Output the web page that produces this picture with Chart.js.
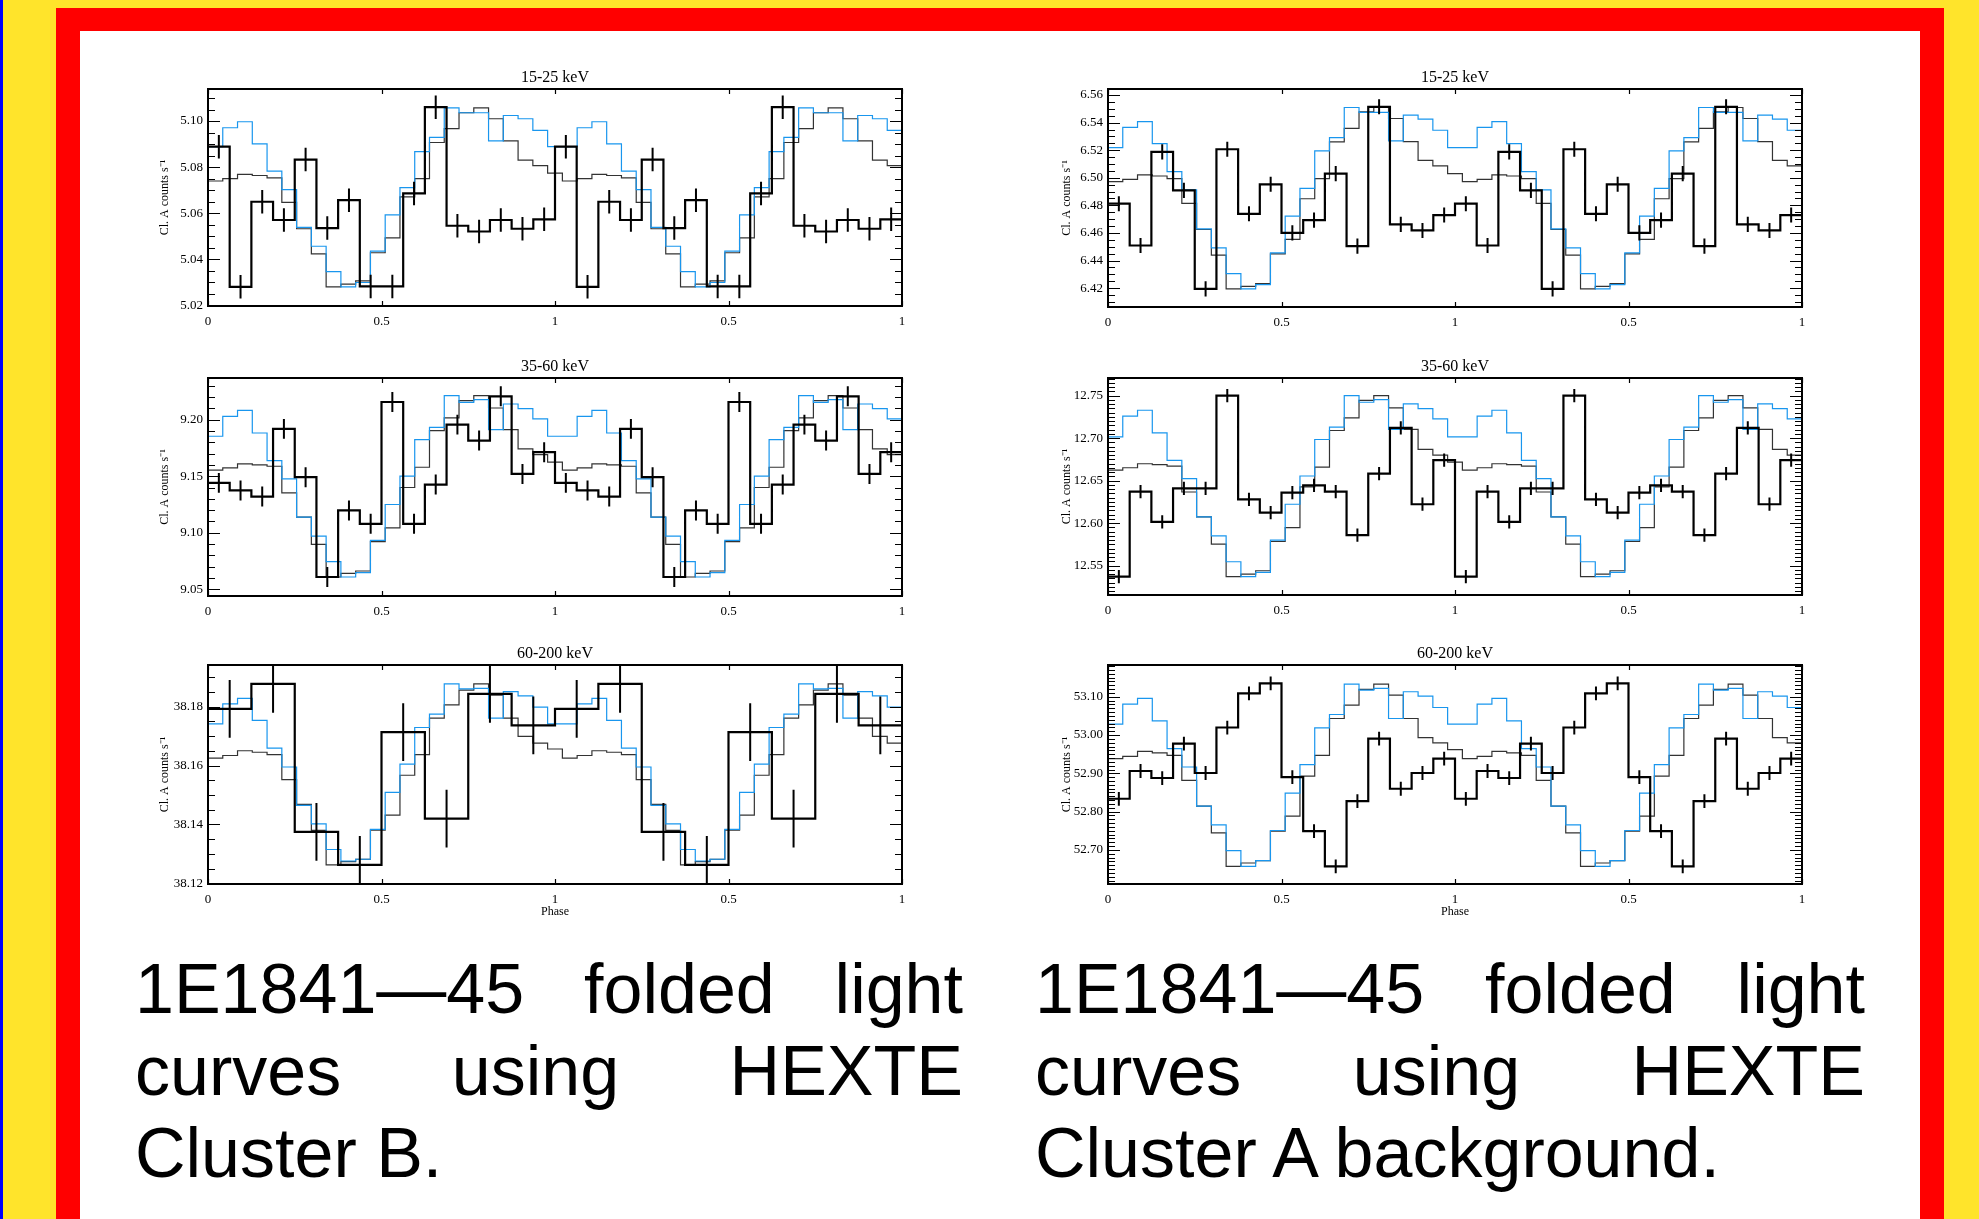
<!DOCTYPE html>
<html>
<head>
<meta charset="utf-8">
<script src="https://cdn.jsdelivr.net/npm/chart.js@4.4.1/dist/chart.umd.min.js"></script>
<style>
  html, body { margin: 0; padding: 0; }
  body { width: 1979px; height: 1219px; background: #FFE42B; position: relative; overflow: hidden; }
  .abs { position: absolute; }
  #strip { left: 0; top: 0; width: 3px; height: 1219px; background: #0000FF; }
  #red { left: 56px; top: 8px; width: 1888px; height: 1211px; background: #FF0000; }
  #paper { left: 80px; top: 31px; width: 1840px; height: 1188px; background: #FFFFFF; }
  canvas.panel { position: absolute; }
  .caption { position: absolute; top: 948px; font: 70px/82px "Liberation Sans", Arial, sans-serif; color: #000; text-align: justify; }
</style>
</head>
<body>
<div id="strip" class="abs"></div>
<div id="red" class="abs"></div>
<div id="paper" class="abs"></div>
<div class="caption" style="left:135px;width:828px;">1E1841&#8212;45 folded light curves using HEXTE Cluster B.</div>
<div class="caption" style="left:1035px;width:830px;">1E1841&#8212;45 folded light curves using HEXTE Cluster A background.</div>

<script>
// Phase axis: two cycles, labelled 0 .. 1 then 0.5 .. 1 again
const phaseTicks = [0, 0.5, 1, 1.5, 2];
const phaseTickLabels = ['0', '0.5', '1', '0.5', '1'];
const yAxisTitle = 'Cl. A counts s\u207B\u00B9';

// ---- Cluster B, 15-25 keV ----
const bRate1525 = [5.0889, 5.0281, 5.0650, 5.0571, 5.0833, 5.0536, 5.0657, 5.0283,
                   5.0283, 5.0686, 5.1060, 5.0546, 5.0521, 5.0571, 5.0533, 5.0574];
const bErr1525 = 0.0051;
const bModel1525 = [5.0740, 5.0750, 5.0769, 5.0764, 5.0754, 5.0647, 5.0533, 5.0424,
                    5.0281, 5.0293, 5.0307, 5.0429, 5.0493, 5.0671, 5.0750, 5.0907,
                    5.0967, 5.1036, 5.1057, 5.1010, 5.0914, 5.0831, 5.0807, 5.0774];
const bBlue1525 = [5.0889, 5.0971, 5.0997, 5.0901, 5.0783, 5.0703, 5.0539, 5.0457,
                   5.0347, 5.0281, 5.0300, 5.0436, 5.0593, 5.0711, 5.0867, 5.0929,
                   5.1057, 5.1036, 5.1036, 5.0914, 5.1024, 5.1010, 5.0960, 5.0889];

// ---- Cluster B, 35-60 keV ----
const bRate3560 = [9.1441, 9.1374, 9.1320, 9.1918, 9.1491, 9.0609, 9.1197, 9.1079,
                   9.2156, 9.1079, 9.1426, 9.1956, 9.1815, 9.2206, 9.1520, 9.1712];
const bErr3560 = 0.0088;
const bModel3560 = [9.1553, 9.1574, 9.1609, 9.1600, 9.1588, 9.1353, 9.1138, 9.0897,
                    9.0609, 9.0641, 9.0662, 9.0921, 9.1044, 9.1400, 9.1579, 9.1903,
                    9.2015, 9.2168, 9.2212, 9.2103, 9.1912, 9.1741, 9.1691, 9.1624];
const bBlue3560 = [9.1853, 9.2029, 9.2082, 9.1882, 9.1638, 9.1476, 9.1138, 9.0971,
                   9.0744, 9.0609, 9.0647, 9.0932, 9.1250, 9.1500, 9.1824, 9.1932,
                   9.2212, 9.2153, 9.2176, 9.1912, 9.2138, 9.2097, 9.2006, 9.1853];

// ---- Cluster B, 60-200 keV ----
const bRate60200 = [38.1792, 38.1877, 38.1375, 38.1263, 38.1713, 38.1420, 38.1843, 38.1736];
const bErr60200 = 0.0098;
const bModel60200 = [38.1625, 38.1634, 38.1650, 38.1645, 38.1637, 38.1552, 38.1468, 38.1380,
                     38.1263, 38.1274, 38.1282, 38.1381, 38.1432, 38.1567, 38.1637, 38.1761,
                     38.1806, 38.1856, 38.1877, 38.1839, 38.1761, 38.1699, 38.1676, 38.1656];
const bBlue60200 = [38.1741, 38.1809, 38.1828, 38.1753, 38.1659, 38.1595, 38.1465, 38.1402,
                    38.1315, 38.1276, 38.1282, 38.1383, 38.1509, 38.1605, 38.1729, 38.1774,
                    38.1877, 38.1860, 38.1862, 38.1761, 38.1851, 38.1836, 38.1798, 38.1741];

// ---- Cluster A background, 15-25 keV ----
const aRate1525 = [6.4812, 6.4509, 6.5188, 6.4909, 6.4194, 6.5207, 6.4739, 6.4953,
                   6.4601, 6.4693, 6.5030, 6.4504, 6.5515, 6.4662, 6.4618, 6.4730];
const aErr1525 = 0.0055;
const aModel1525 = [6.4972, 6.4989, 6.5021, 6.5013, 6.4994, 6.4815, 6.4625, 6.4439,
                    6.4194, 6.4213, 6.4233, 6.4448, 6.4553, 6.4848, 6.4994, 6.5261,
                    6.5358, 6.5479, 6.5510, 6.5430, 6.5263, 6.5127, 6.5086, 6.5030];
const aBlue1525 = [6.5219, 6.5365, 6.5408, 6.5248, 6.5045, 6.4912, 6.4630, 6.4492,
                   6.4305, 6.4194, 6.4225, 6.4456, 6.4722, 6.4924, 6.5195, 6.5292,
                   6.5510, 6.5474, 6.5474, 6.5268, 6.5455, 6.5425, 6.5345, 6.5219];

// ---- Cluster A background, 35-60 keV ----
const aRate3560 = [12.5371, 12.6371, 12.6016, 12.6410, 12.6410, 12.7500, 12.6281, 12.6125,
                   12.6359, 12.6445, 12.6371, 12.5859, 12.6582, 12.7121, 12.6223, 12.6742];
const aErr3560 = 0.0078;
const aModel3560 = [12.6625, 12.6652, 12.6699, 12.6688, 12.6672, 12.6367, 12.6074, 12.5754,
                    12.5371, 12.5402, 12.5441, 12.5785, 12.5949, 12.6426, 12.6660, 12.7090,
                    12.7238, 12.7445, 12.7500, 12.7355, 12.7102, 12.6867, 12.6801, 12.6719];
const aBlue3560 = [12.7016, 12.7258, 12.7328, 12.7063, 12.6738, 12.6523, 12.6074, 12.5852,
                   12.5547, 12.5371, 12.5422, 12.5801, 12.6223, 12.6555, 12.6984, 12.7129,
                   12.7500, 12.7422, 12.7453, 12.7102, 12.7402, 12.7348, 12.7227, 12.7016];

// ---- Cluster A background, 60-200 keV ----
const aRate60200 = [52.8336, 52.9061, 52.8878, 52.9777, 52.9009, 53.0197, 53.1087, 53.1349,
                    52.8904, 52.7489, 52.6572, 52.8275, 52.9908, 52.8598, 52.9009, 52.9384];
const aErr60200 = 0.018;
const aModel60200 = [52.9384, 52.9445, 52.9576, 52.9533, 52.9472, 52.8817, 52.8144, 52.7445,
                     52.6572, 52.6659, 52.6720, 52.7489, 52.7882, 52.8930, 52.9472, 53.0432,
                     53.0782, 53.1192, 53.1332, 53.1044, 53.0432, 52.9934, 52.9795, 52.9620];
const aBlue60200 = [53.0284, 53.0808, 53.0956, 53.0371, 52.9646, 52.9166, 52.8144, 52.7655,
                    52.6983, 52.6572, 52.6720, 52.7507, 52.8485, 52.9227, 53.0188, 53.0537,
                    53.1332, 53.1175, 53.1218, 53.0432, 53.1131, 53.1017, 53.0720, 53.0284];

// y ranges and tick spacing for each energy band
const bRanges = [[5.0198, 5.1139, 0.02, 0.005], [9.0441, 9.2368, 0.05, 0.01], [38.1198, 38.1941, 0.02, 0.005]];
const aRanges = [[6.4063, 6.5644, 0.02, 0.005], [12.5156, 12.7707, 0.05, 0.005], [52.611, 53.183, 0.1, 0.01]];
const bandTitles = ['15-25 keV', '35-60 keV', '60-200 keV'];

// panel boxes on the page: plot-area left, top, right, bottom
const leftBoxes  = [[208, 89, 902, 306], [208, 378, 902, 596], [208, 665, 902, 884]];
const rightBoxes = [[1108, 89, 1802, 307], [1108, 378, 1802, 595], [1108, 665, 1802, 884]];

const panels = [
  { rate: bRate1525,  err: bErr1525,  model: bModel1525,  blue: bBlue1525,  range: bRanges[0], title: bandTitles[0], box: leftBoxes[0],  titlePad: 10,   phase: false },
  { rate: bRate3560,  err: bErr3560,  model: bModel3560,  blue: bBlue3560,  range: bRanges[1], title: bandTitles[1], box: leftBoxes[1],  titlePad: 10,   phase: false },
  { rate: bRate60200, err: bErr60200, model: bModel60200, blue: bBlue60200, range: bRanges[2], title: bandTitles[2], box: leftBoxes[2],  titlePad: 10,   phase: true },
  { rate: aRate1525,  err: aErr1525,  model: aModel1525,  blue: aBlue1525,  range: aRanges[0], title: bandTitles[0], box: rightBoxes[0], titlePad: 11.5, phase: false },
  { rate: aRate3560,  err: aErr3560,  model: aModel3560,  blue: aBlue3560,  range: aRanges[1], title: bandTitles[1], box: rightBoxes[1], titlePad: 11.5, phase: false },
  { rate: aRate60200, err: aErr60200, model: aModel60200, blue: aBlue60200, range: aRanges[2], title: bandTitles[2], box: rightBoxes[2], titlePad: 11.5, phase: true }
];

const SERIF = '"Liberation Serif", "Times New Roman", serif';

// Frame, inward tick marks, error bars and panel captions
const framePlugin = {
  id: 'frame',
  afterDatasetsDraw(chart) {
    const o = chart.options.plugins.frame;
    const { ctx, chartArea: { left, top, right, bottom }, scales: { x, y } } = chart;
    const [ymin, ymax, major, minor] = o.range;

    // error bars at the centre of each measured bin
    const N = o.rate.length;
    ctx.save();
    ctx.beginPath();
    ctx.rect(left, top, right - left, bottom - top);
    ctx.clip();
    ctx.strokeStyle = '#000';
    ctx.lineWidth = 2;
    ctx.beginPath();
    for (let k = 0; k < 2 * N; k++) {
      const xp = x.getPixelForValue((k + 0.5) / N);
      const v = o.rate[k % N];
      ctx.moveTo(xp, y.getPixelForValue(v + o.err));
      ctx.lineTo(xp, y.getPixelForValue(v - o.err));
    }
    ctx.stroke();
    ctx.restore();

    ctx.save();
    ctx.strokeStyle = '#000';
    // y tick marks on both vertical sides
    ctx.lineWidth = 1.2;
    ctx.beginPath();
    const first = Math.ceil(ymin / minor - 1e-9);
    const last = Math.floor(ymax / minor + 1e-9);
    for (let i = first; i <= last; i++) {
      const v = i * minor;
      const yp = Math.round(y.getPixelForValue(v)) + 0.5;
      const r = v / major;
      const isMajor = Math.abs(r - Math.round(r)) < 1e-6;
      const len = isMajor ? 12 : 7;
      ctx.moveTo(left, yp); ctx.lineTo(left + len, yp);
      ctx.moveTo(right, yp); ctx.lineTo(right - len, yp);
    }
    // x tick marks top and bottom
    for (const v of phaseTicks) {
      const xp = Math.round(x.getPixelForValue(v)) + 0.5;
      ctx.moveTo(xp, bottom); ctx.lineTo(xp, bottom - 5);
      ctx.moveTo(xp, top); ctx.lineTo(xp, top + 5);
    }
    ctx.stroke();
    // plot box
    ctx.lineWidth = 2;
    ctx.strokeRect(left, top, right - left, bottom - top);

    // band caption above the panel
    ctx.fillStyle = '#000';
    ctx.font = '16px ' + SERIF;
    ctx.textAlign = 'center';
    ctx.textBaseline = 'middle';
    ctx.fillText(o.title, x.getPixelForValue(1), top - 11);
    if (o.phase) {
      ctx.font = '12px ' + SERIF;
      ctx.fillText('Phase', x.getPixelForValue(1), bottom + 28);
    }
    ctx.restore();
  }
};

function stepsFromBins(values) {
  // measured profile: N bins per cycle, edges at k/N over two cycles
  const N = values.length, pts = [];
  for (let k = 0; k < 2 * N; k++) pts.push({ x: k / N, y: values[k % N] });
  pts.push({ x: 2, y: values[N - 1] });
  return pts;
}

function stepsFromModel(values) {
  // model profile: repeated twice and spread evenly over phase 0..2
  const M = values.length, nSeg = 2 * M - 1, pts = [];
  for (let i = 0; i < nSeg; i++) pts.push({ x: 2 * i / nSeg, y: values[i % M] });
  pts.push({ x: 2, y: values[(nSeg - 1) % M] });
  return pts;
}

function makePanel(p) {
  const [L, T, R, B] = p.box;
  const [ymin, ymax, major] = p.range;
  const majors = [];
  for (let i = Math.ceil(ymin / major - 1e-9); i <= Math.floor(ymax / major + 1e-9); i++) {
    majors.push(Math.round(i * major * 1e6) / 1e6);
  }
  const canvas = document.createElement('canvas');
  canvas.className = 'panel';
  canvas.width = R - L + 80;
  canvas.height = B - T + 75;
  canvas.style.left = (L - 60) + 'px';
  canvas.style.top = (T - 30) + 'px';
  document.body.appendChild(canvas);

  new Chart(canvas, {
    type: 'line',
    data: {
      datasets: [
        { data: stepsFromBins(p.rate), borderColor: '#000', borderWidth: 2.2, stepped: 'before' },
        { data: stepsFromModel(p.blue), borderColor: 'rgb(25,150,238)', borderWidth: 1.2, stepped: 'before' },
        { data: stepsFromModel(p.model), borderColor: '#333', borderWidth: 1.2, stepped: 'before' }
      ]
    },
    options: {
      responsive: false,
      animation: false,
      events: [],
      layout: { padding: { top: 30, right: 20, left: 0, bottom: 0 } },
      elements: { point: { radius: 0 }, line: { tension: 0, borderJoinStyle: 'miter' } },
      plugins: {
        legend: { display: false },
        tooltip: { enabled: false },
        frame: { rate: p.rate, err: p.err, range: p.range, title: p.title, phase: p.phase }
      },
      scales: {
        x: {
          type: 'linear', min: 0, max: 2,
          grid: { display: false, drawTicks: false },
          border: { display: false },
          afterBuildTicks: s => { s.ticks = phaseTicks.map(v => ({ value: v })); },
          afterFit: s => { s.height = 45; },
          ticks: {
            autoSkip: false, maxRotation: 0, padding: 8, color: '#000',
            font: { family: SERIF, size: 13 },
            callback: (v, i) => phaseTickLabels[i]
          }
        },
        y: {
          type: 'linear', min: ymin, max: ymax,
          grid: { display: false, drawTicks: false },
          border: { display: false },
          afterBuildTicks: s => { s.ticks = majors.map(v => ({ value: v })); },
          afterFit: s => { s.width = 60; },
          ticks: {
            autoSkip: false, padding: 5, color: '#000',
            font: { family: SERIF, size: 13 },
            callback: v => Number(v).toFixed(2)
          },
          title: {
            display: true, text: yAxisTitle, color: '#000',
            font: { family: SERIF, size: 12 },
            padding: { top: p.titlePad, bottom: 0 }
          }
        }
      }
    },
    plugins: [framePlugin]
  });
}

panels.forEach(makePanel);
</script>
</body>
</html>
